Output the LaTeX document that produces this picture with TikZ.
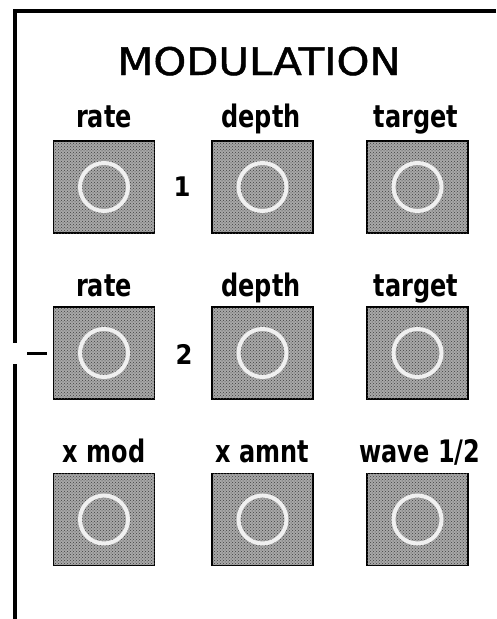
\documentclass[tikz,border=0pt]{standalone}
\usepackage{fontspec}
\setmainfont{DejaVu Sans}
\newfontfamily\condfont{DejaVu Sans Condensed}
\newfontfamily\titlefont[FakeBold=1.2]{DejaVu Sans}
\usetikzlibrary{patterns}
\tikzset{
  knobbox/.style={draw=black, line width=1.8pt, fill=black!34, minimum width=101pt, minimum height=92pt, inner sep=0pt,
    postaction={pattern=crosshatch dots, pattern color=black!75}},
  knobring/.style={draw=white!94!black, line width=4pt, circle, minimum size=48pt, inner sep=0pt},
  knoblabel/.style={anchor=base, font=\condfont\bfseries\fontsize{31}{31}\selectfont, inner sep=0pt},
  numlabel/.style={anchor=center, font=\condfont\bfseries\fontsize{27}{27}\selectfont, inner sep=0pt},
  frameline/.style={line width=4pt, draw=black}
}
\newcommand{\lbltext}[1]{\scalebox{0.86}[1]{#1}}
\begin{document}
\begin{tikzpicture}[x=1pt,y=-1pt]
\useasboundingbox[fill=white] (0,0) rectangle (496,619);
% frame
\coordinate (tr) at (496,11);
\coordinate (tl) at (15,11);
\coordinate (gapTop) at (15,343);
\coordinate (gapBot) at (15,364);
\coordinate (bl) at (15,619);
\coordinate (dashL) at (27,353);
\coordinate (dashR) at (47,353);
\draw[frameline] (tr) -- (tl) -- (gapTop);
\draw[frameline] (gapBot) -- (bl);
\draw[line width=3pt] (dashL) -- (dashR);
% title
\node[anchor=base, inner sep=0pt, font=\titlefont\fontsize{38}{38}\selectfont] (title) at (259,75) {\scalebox{1.1}[1]{MODULATION}};
% boxes
\foreach \r/\yc in {1/187, 2/353, 3/519.5} {
  \foreach \c/\xc in {1/104, 2/262.5, 3/417.5} {
    \node[knobbox] (b\r\c) at (\xc,\yc) {};
    \node[knobring] (k\r\c) at (\xc,\yc) {};
  }
}
% labels
\node[knoblabel] (l11) at (104,127) {\lbltext{rate}};
\node[knoblabel] (l12) at (261,127) {\lbltext{depth}};
\node[knoblabel] (l13) at (416,127) {\lbltext{target}};
\node[knoblabel] (l21) at (104,296) {\lbltext{rate}};
\node[knoblabel] (l22) at (261,296) {\lbltext{depth}};
\node[knoblabel] (l23) at (416,296) {\lbltext{target}};
\node[knoblabel] (l31) at (104,462) {\lbltext{x mod}};
\node[knoblabel] (l32) at (262,462) {\lbltext{x amnt}};
\node[knoblabel] (l33) at (420,462) {\lbltext{wave 1/2}};
% numbers
\node[numlabel] (n1) at (182,187) {1};
\node[numlabel] (n2) at (184,354) {2};
\end{tikzpicture}
\end{document}
